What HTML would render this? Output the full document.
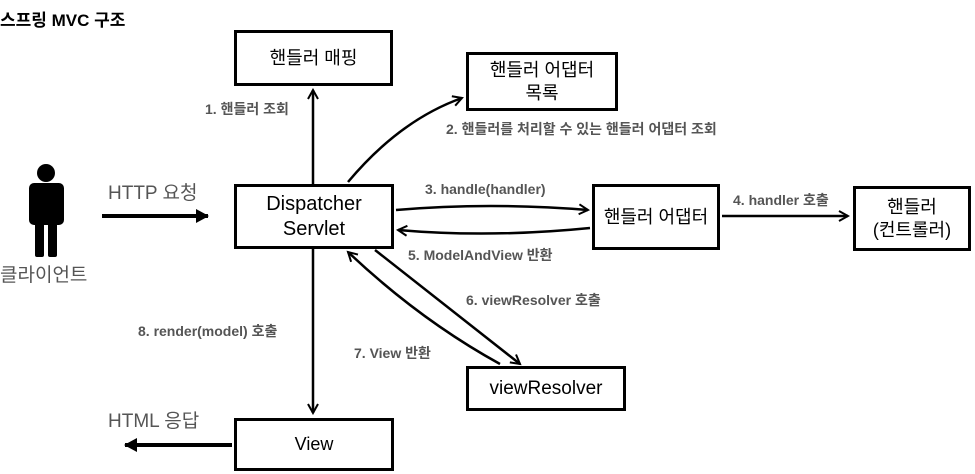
<!DOCTYPE html>
<html><head><meta charset="utf-8"><style>
body{margin:0;background:#fff;width:975px;height:474px;overflow:hidden;position:relative;font-family:"Liberation Sans","Noto Sans CJK KR",sans-serif}
.b{position:absolute;border:3px solid #000;box-sizing:border-box;background:#fff;display:flex;align-items:center;justify-content:center;text-align:center;font-size:18px;color:#000;line-height:1.25}
.t{position:absolute;font-size:14px;font-weight:bold;color:#555;white-space:nowrap}
.g{position:absolute;font-size:19px;color:#555;white-space:nowrap}
</style></head><body>
<div style="position:absolute;left:0;top:6px;font-size:17px;font-weight:bold;color:#000">스프링 MVC 구조</div>
<svg width="975" height="474" style="position:absolute;left:0;top:0">
<defs><marker id="a" markerWidth="12" markerHeight="12" refX="10" refY="6" orient="auto" markerUnits="userSpaceOnUse"><path d="M1,1 L10,6 L1,11" fill="none" stroke="#000" stroke-width="2"/></marker>
<marker id="f" markerWidth="14" markerHeight="14" refX="12" refY="7" orient="auto" markerUnits="userSpaceOnUse"><path d="M0,0 L13,7 L0,14Z" fill="#000"/></marker></defs>
<g stroke="#000" stroke-width="2.5" fill="none">
<line x1="313" y1="184" x2="313" y2="90" marker-end="url(#a)"/>
<line x1="313" y1="248" x2="313" y2="413" marker-end="url(#a)"/>
<path d="M348,182 Q400,120 462,98" marker-end="url(#a)"/>
<path d="M396,210 Q490,202 588,210" marker-end="url(#a)"/>
<path d="M590,228 Q490,238 398,230" marker-end="url(#a)"/>
<line x1="722" y1="216" x2="848" y2="216" marker-end="url(#a)"/>
<line x1="375" y1="250" x2="520" y2="364" marker-end="url(#a)"/>
<path d="M500,364 Q420,320 348,252" marker-end="url(#a)"/>
<line x1="102" y1="216" x2="208" y2="216" stroke-width="4" marker-end="url(#f)"/>
<line x1="232" y1="445" x2="125" y2="445" stroke-width="4" marker-end="url(#f)"/>
</g>
<g fill="#000"><circle cx="46" cy="173" r="9"/><rect x="29" y="183" width="35" height="42" rx="5"/><rect x="35" y="215" width="9" height="42" rx="2"/><rect x="48" y="215" width="9" height="42" rx="2"/></g>
</svg>
<div class="g" style="left:0;top:260px">클라이언트</div>
<div class="g" style="left:108px;top:178px">HTTP 요청</div>
<div class="g" style="left:108px;top:406px">HTML 응답</div>
<div class="b" style="left:234px;top:30px;width:159px;height:56px">핸들러 매핑</div>
<div class="b" style="left:466px;top:52px;width:152px;height:59px">핸들러 어댑터<br>목록</div>
<div class="b" style="left:234px;top:184px;width:160px;height:65px;font-size:20px">Dispatcher<br>Servlet</div>
<div class="b" style="left:592px;top:184px;width:128px;height:66px">핸들러 어댑터</div>
<div class="b" style="left:853px;top:186px;width:118px;height:65px">핸들러<br>(컨트롤러)</div>
<div class="b" style="left:466px;top:366px;width:160px;height:45px;font-size:19px">viewResolver</div>
<div class="b" style="left:234px;top:418px;width:160px;height:53px;font-size:18px">View</div>
<div class="t" style="left:205px;top:99px">1. 핸들러 조회</div>
<div class="t" style="left:446px;top:119px">2. 핸들러를 처리할 수 있는 핸들러 어댑터 조회</div>
<div class="t" style="left:425px;top:181px">3. handle(handler)</div>
<div class="t" style="left:408px;top:245px">5. ModelAndView 반환</div>
<div class="t" style="left:733px;top:190px">4. handler 호출</div>
<div class="t" style="left:466px;top:290px">6. viewResolver 호출</div>
<div class="t" style="left:354px;top:343px">7. View 반환</div>
<div class="t" style="left:138px;top:321px">8. render(model) 호출</div>
</body></html>
